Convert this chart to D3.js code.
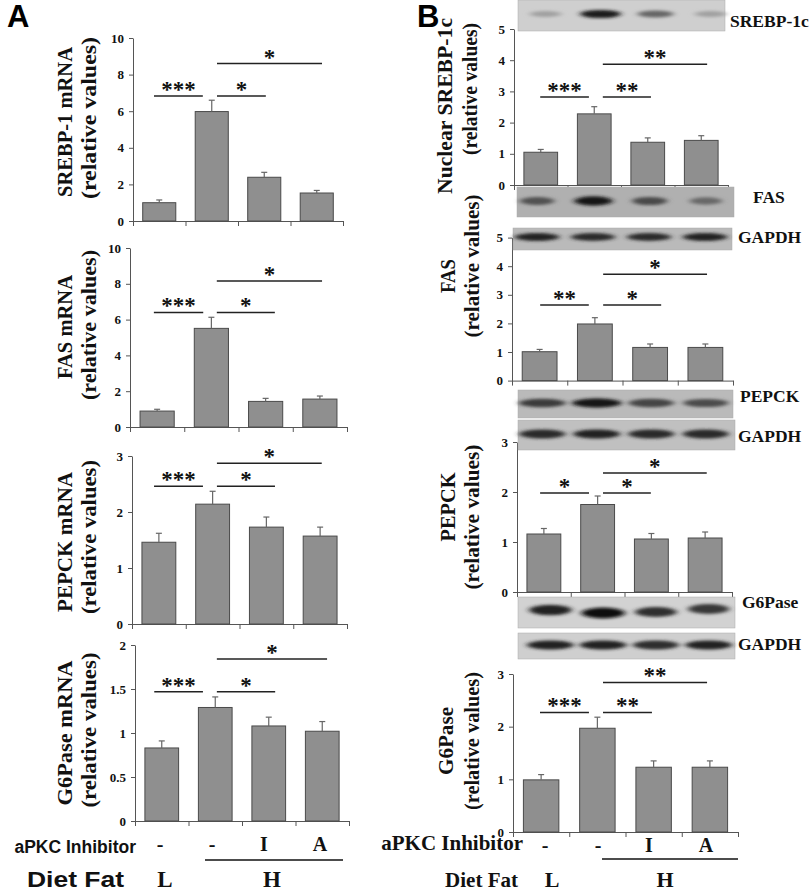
<!DOCTYPE html>
<html>
<head>
<meta charset="utf-8">
<script src="https://cdn.jsdelivr.net/npm/d3@7/dist/d3.min.js"></script>
<style>
  html, body { margin: 0; padding: 0; background: #fff; }
  svg { display: block; }
</style>
</head>
<body>
<svg id="chart" width="810" height="891"></svg>
<script>
// ---------------- DATA ----------------
const conditions = ["L/-", "H/-", "H/I", "H/A"];
const inhibitorLabels = ["-", "-", "I", "A"];
const dietLabels = ["L", "H"];

// Panel A (mRNA, relative values)
const srebp1mRNA = [1.0, 5.98, 2.39, 1.53];
const srebp1mRNASem = [0.15, 0.62, 0.27, 0.14];
const fasMRNA = [0.89, 5.51, 1.43, 1.56];
const fasMRNASem = [0.1, 0.62, 0.17, 0.17];
const pepckMRNA = [1.46, 2.14, 1.73, 1.57];
const pepckMRNASem = [0.16, 0.23, 0.18, 0.16];
const g6paseMRNA = [0.83, 1.29, 1.08, 1.02];
const g6paseMRNASem = [0.08, 0.12, 0.1, 0.11];

// Panel B (protein, relative values)
const nuclearSrebp1c = [1.05, 2.28, 1.37, 1.43];
const nuclearSrebp1cSem = [0.09, 0.23, 0.14, 0.15];
const fasProtein = [1.01, 1.98, 1.16, 1.16];
const fasProteinSem = [0.08, 0.22, 0.12, 0.12];
const pepckProtein = [1.16, 1.75, 1.06, 1.08];
const pepckProteinSem = [0.11, 0.17, 0.11, 0.12];
const g6paseProtein = [0.99, 1.97, 1.23, 1.23];
const g6paseProteinSem = [0.1, 0.21, 0.12, 0.12];

// Significance brackets: [label, from (category position), to, y value]
const sigA1 = [["***", 0.40, 1.33, 6.83], ["*", 1.60, 2.53, 6.83], ["*", 1.60, 3.60, 8.6]];
const sigA2 = [["***", 0.44, 1.35, 6.4], ["*", 1.60, 2.67, 6.4], ["*", 1.60, 3.54, 8.15]];
const sigA3 = [["***", 0.41, 1.32, 2.46], ["*", 1.58, 2.66, 2.46], ["*", 1.58, 3.53, 2.87]];
const sigA4 = [["***", 0.36, 1.27, 1.47], ["*", 1.53, 2.62, 1.47], ["*", 1.53, 3.59, 1.84]];
const sigB1 = [["***", 0.49, 1.40, 2.82], ["**", 1.66, 2.56, 2.82], ["**", 1.66, 3.61, 3.87]];
const sigB2 = [["**", 0.51, 1.39, 2.64], ["*", 1.65, 2.70, 2.64], ["*", 1.65, 3.53, 3.72]];
const sigB3 = [["*", 0.43, 1.34, 1.98], ["*", 1.60, 2.49, 1.98], ["*", 1.60, 3.53, 2.38]];
const sigB4 = [["***", 0.48, 1.35, 2.27], ["**", 1.60, 2.47, 2.27], ["**", 1.60, 3.45, 2.84]];

// Tick values
const ticksA1 = [0, 2, 4, 6, 8, 10];
const ticksA2 = [0, 2, 4, 6, 8, 10];
const ticksA3 = [0, 1, 2, 3];
const ticksA4 = [0, 0.5, 1, 1.5, 2];
const ticksB1 = [0, 1, 2, 3, 4, 5];
const ticksB2 = [0, 1, 2, 3, 4, 5];
const ticksB3 = [0, 1, 2, 3];
const ticksB4 = [0, 1, 2, 3];

// Western blot band intensities per lane (0..1)
const blotSrebp1c = [0.25, 0.95, 0.55, 0.25];
const blotFas = [0.6, 0.95, 0.65, 0.45];
const blotFasGapdh = [0.9, 0.85, 0.85, 0.9];
const blotPepck = [0.75, 0.95, 0.7, 0.65];
const blotPepckGapdh = [0.85, 0.9, 0.85, 0.85];
const blotG6pase = [0.9, 1.0, 0.85, 0.8];
const blotG6paseGapdh = [0.9, 0.9, 0.85, 0.9];

// ---------------- DRAWING ----------------
const svg = d3.select("#chart");
const SERIF = "'Liberation Serif', 'Times New Roman', serif";
const SANS = "'Liberation Sans', Arial, sans-serif";

const defs = svg.append("defs");
defs.append("filter").attr("id", "blur3").attr("x", "-50%").attr("y", "-100%").attr("width", "200%").attr("height", "300%")
  .append("feGaussianBlur").attr("stdDeviation", "3 1.6");

function drawChart(c) {
  const g = svg.append("g");
  const y = d3.scaleLinear().domain([0, c.yMax]).range([c.y0, c.yTop]);
  const xCat = d3.scaleLinear().domain([0, conditions.length]).range([c.xL, c.xR]);
  const xb = d3.scaleBand().domain(conditions).range([c.xL, c.xR]).paddingInner(0.37).paddingOuter(0.185);

  // y axis
  const ya = g.append("g").attr("transform", `translate(${c.xL},0)`)
    .call(d3.axisLeft(y).tickValues(c.ticks).tickSize(4).tickSizeOuter(0).tickPadding(5)
      .tickFormat(d => String(d)));
  ya.select(".domain").attr("stroke", "#555").attr("stroke-width", 1);
  ya.selectAll(".tick line").attr("stroke", "#555");
  ya.selectAll(".tick text").attr("font-family", SERIF).attr("font-weight", "bold")
    .attr("font-size", 13).attr("fill", "#111");

  // x axis (category boundaries)
  const xa = g.append("g").attr("transform", `translate(0,${c.y0})`)
    .call(d3.axisBottom(xCat).tickValues(d3.range(conditions.length + 1)).tickSize(5).tickSizeOuter(0).tickFormat(""));
  xa.select(".domain").attr("stroke", "#555");
  xa.selectAll(".tick line").attr("stroke", "#555");

  // bars
  g.selectAll("rect.bar").data(c.values).join("rect").attr("class", "bar")
    .attr("x", (d, i) => xb(conditions[i]))
    .attr("width", xb.bandwidth())
    .attr("y", d => y(d))
    .attr("height", d => c.y0 - y(d))
    .attr("fill", "#8f8f8f").attr("stroke", "#4a4a4a").attr("stroke-width", 1);

  // error bars
  const eg = g.append("g").attr("stroke", "#666").attr("stroke-width", 1.2);
  c.values.forEach((v, i) => {
    const cx = xb(conditions[i]) + xb.bandwidth() / 2;
    eg.append("line").attr("x1", cx).attr("x2", cx).attr("y1", y(v)).attr("y2", y(v + c.sem[i]));
    eg.append("line").attr("x1", cx - 3).attr("x2", cx + 3).attr("y1", y(v + c.sem[i])).attr("y2", y(v + c.sem[i]));
  });

  // significance
  c.sig.forEach(([lab, a, b, v]) => {
    g.append("line").attr("x1", xCat(a)).attr("x2", xCat(b)).attr("y1", y(v)).attr("y2", y(v))
      .attr("stroke", "#222").attr("stroke-width", 1.5);
    g.append("text").attr("x", (xCat(a) + xCat(b)) / 2).attr("y", y(v) + 1)
      .attr("text-anchor", "middle").attr("font-family", SERIF).attr("font-weight", "bold")
      .attr("font-size", 23).attr("fill", "#111").text(lab);
  });

  // y titles
  c.titles.forEach(t => {
    const tx = g.append("text")
      .attr("transform", `translate(${t.x},${t.cy}) rotate(-90)`)
      .attr("text-anchor", "middle").attr("font-family", SERIF).attr("font-weight", "bold")
      .attr("font-size", t.fs || 21).attr("fill", "#111").text(t.text);
    if (t.len) tx.attr("textLength", t.len).attr("lengthAdjust", "spacingAndGlyphs");
  });
}

function drawBlot(b) {
  const g = svg.append("g");
  g.append("rect").attr("x", b.x).attr("y", b.y).attr("width", b.w).attr("height", b.h).attr("fill", b.bg);
  g.append("rect").attr("x", b.x).attr("y", b.y).attr("width", b.w).attr("height", b.h)
    .attr("fill", "none").attr("stroke", "#aaa").attr("stroke-width", 0.5);
  const lane = d3.scaleLinear().domain([0, b.lanes.length]).range([b.laneL, b.laneR]);
  const gb = g.append("g").attr("filter", "url(#blur3)");
  b.lanes.forEach((v, i) => {
    const cx = lane(i + 0.5);
    gb.append("ellipse").attr("cx", cx).attr("cy", b.band + (b.dy ? b.dy[i] : 0))
      .attr("rx", b.rx * (0.8 + 0.35 * v)).attr("ry", b.ry * (0.7 + 0.5 * v))
      .attr("fill", d3.interpolateRgb(b.bg, "#111")(v));
  });
  svg.append("text").attr("x", b.labelX).attr("y", b.labelY)
    .attr("font-family", SERIF).attr("font-weight", "bold").attr("font-size", 17.5)
    .attr("fill", "#111").text(b.label);
}

const charts = [
  { values: srebp1mRNA, sem: srebp1mRNASem, sig: sigA1, ticks: ticksA1, yMax: 10, xL: 133, xR: 343, y0: 221, yTop: 38,
    titles: [{ text: "SREBP-1 mRNA", x: 72, cy: 122, len: 150 }, { text: "(relative values)", x: 96, cy: 118, len: 162 }] },
  { values: fasMRNA, sem: fasMRNASem, sig: sigA2, ticks: ticksA2, yMax: 10, xL: 130, xR: 347, y0: 427, yTop: 248,
    titles: [{ text: "FAS mRNA", x: 72, cy: 327, len: 104 }, { text: "(relative values)", x: 96, cy: 325, len: 150 }] },
  { values: pepckMRNA, sem: pepckMRNASem, sig: sigA3, ticks: ticksA3, yMax: 3, xL: 132, xR: 347, y0: 624, yTop: 456,
    titles: [{ text: "PEPCK mRNA", x: 72, cy: 542, len: 140 }, { text: "(relative values)", x: 96, cy: 537, len: 154 }] },
  { values: g6paseMRNA, sem: g6paseMRNASem, sig: sigA4, ticks: ticksA4, yMax: 2, xL: 135, xR: 349, y0: 821, yTop: 645,
    titles: [{ text: "G6Pase mRNA", x: 72, cy: 733, len: 145 }, { text: "(relative values)", x: 96, cy: 730, len: 155 }] },
  { values: nuclearSrebp1c, sem: nuclearSrebp1cSem, sig: sigB1, ticks: ticksB1, yMax: 5, xL: 514, xR: 728, y0: 185, yTop: 29,
    titles: [{ text: "Nuclear SREBP-1c", x: 452, cy: 106, len: 176 }, { text: "(relative values)", x: 477, cy: 89, len: 132 }] },
  { values: fasProtein, sem: fasProteinSem, sig: sigB2, ticks: ticksB2, yMax: 5, xL: 512, xR: 733, y0: 380.6, yTop: 237.6,
    titles: [{ text: "FAS", x: 455, cy: 276, len: 34 }, { text: "(relative values)", x: 479, cy: 266, len: 143 }] },
  { values: pepckProtein, sem: pepckProteinSem, sig: sigB3, ticks: ticksB3, yMax: 3, xL: 517, xR: 732, y0: 592, yTop: 442,
    titles: [{ text: "PEPCK", x: 455, cy: 507, len: 69 }, { text: "(relative values)", x: 479, cy: 517, len: 145 }] },
  { values: g6paseProtein, sem: g6paseProteinSem, sig: sigB4, ticks: ticksB4, yMax: 3, xL: 513, xR: 738, y0: 832, yTop: 674,
    titles: [{ text: "G6Pase", x: 453, cy: 741, len: 68 }, { text: "(relative values)", x: 479, cy: 741, len: 138 }] }
];
charts.forEach(drawChart);

const blots = [
  { lanes: blotSrebp1c, x: 518, y: 0, w: 207, h: 31, bg: "#cfcfcf", laneL: 518, laneR: 738, band: 14, rx: 18, ry: 3.5,
    label: "SREBP-1c", labelX: 730, labelY: 27 },
  { lanes: blotFas, x: 517, y: 187, w: 217, h: 30, bg: "#b0b0b0", laneL: 509, laneR: 734, band: 201, rx: 17, ry: 4,
    label: "FAS", labelX: 753, labelY: 203 },
  { lanes: blotFasGapdh, x: 513, y: 228, w: 219, h: 22, bg: "#bababa", laneL: 509, laneR: 733, band: 237, rx: 20, ry: 3.5,
    label: "GAPDH", labelX: 738, labelY: 243 },
  { lanes: blotPepck, x: 518, y: 390, w: 215, h: 28, bg: "#bababa", laneL: 515, laneR: 733, band: 403, rx: 22, ry: 4,
    label: "PEPCK", labelX: 740, labelY: 402 },
  { lanes: blotPepckGapdh, x: 518, y: 420, w: 217, h: 30, bg: "#c0c0c0", laneL: 515, laneR: 733, band: 434, rx: 21, ry: 4,
    label: "GAPDH", labelX: 738, labelY: 442 },
  { lanes: blotG6pase, x: 518, y: 597, w: 217, h: 31, bg: "#d2d2d2", laneL: 524, laneR: 735, band: 610, dy: [0, 3, 2, -1], rx: 19, ry: 4.5,
    label: "G6Pase", labelX: 742, labelY: 608 },
  { lanes: blotG6paseGapdh, x: 518, y: 633, w: 217, h: 26, bg: "#cfcfcf", laneL: 524, laneR: 735, band: 645, rx: 21, ry: 4,
    label: "GAPDH", labelX: 738, labelY: 650 }
];
blots.forEach(drawBlot);

// Panel letters
svg.append("text").attr("x", 7).attr("y", 27).attr("font-family", SANS).attr("font-weight", "bold")
  .attr("font-size", 31).attr("fill", "#000").text("A");
svg.append("text").attr("x", 417).attr("y", 27).attr("font-family", SANS).attr("font-weight", "bold")
  .attr("font-size", 31).attr("fill", "#000").text("B");

// Bottom group labels
function groupLabels(o) {
  const g = svg.append("g").attr("fill", "#111");
  g.append("text").attr("x", o.inhEnd).attr("y", o.inhY).attr("text-anchor", "end")
    .attr("font-family", o.inhFont).attr("font-weight", "bold").attr("font-size", o.inhFs).text("aPKC Inhibitor");
  inhibitorLabels.forEach((t, i) => {
    g.append("text").attr("x", o.inhX[i]).attr("y", o.markY).attr("text-anchor", "middle")
      .attr("font-family", SERIF).attr("font-weight", "bold").attr("font-size", 20).text(t);
  });
  g.append("line").attr("x1", o.lineX[0]).attr("x2", o.lineX[1]).attr("y1", o.lineY).attr("y2", o.lineY)
    .attr("stroke", "#111").attr("stroke-width", 1.6);
  const df = g.append("text").attr("x", o.dietEnd).attr("y", o.dietY).attr("text-anchor", "end")
    .attr("font-family", o.dietFont).attr("font-weight", "bold").attr("font-size", o.dietFs).text("Diet Fat");
  if (o.dietLen) df.attr("textLength", o.dietLen).attr("lengthAdjust", "spacingAndGlyphs");
  dietLabels.forEach((t, i) => {
    g.append("text").attr("x", o.dietX[i]).attr("y", o.dietY).attr("text-anchor", "middle")
      .attr("font-family", SERIF).attr("font-weight", "bold").attr("font-size", o.lhFs).text(t);
  });
}
groupLabels({ inhEnd: 136, inhY: 853, inhFont: SANS, inhFs: 17.5, inhX: [160, 212, 264, 320], markY: 851,
  lineX: [205, 343], lineY: 860, dietEnd: 124, dietY: 887, dietFont: SANS, dietFs: 22, dietLen: 97,
  dietX: [165, 272], lhFs: 23 });
groupLabels({ inhEnd: 523, inhY: 850, inhFont: SERIF, inhFs: 21, inhX: [545, 598, 649, 706], markY: 852,
  lineX: [602, 738], lineY: 859, dietEnd: 518, dietY: 887, dietFont: SERIF, dietFs: 21,
  dietX: [552, 665], lhFs: 22 });
</script>
</body>
</html>
